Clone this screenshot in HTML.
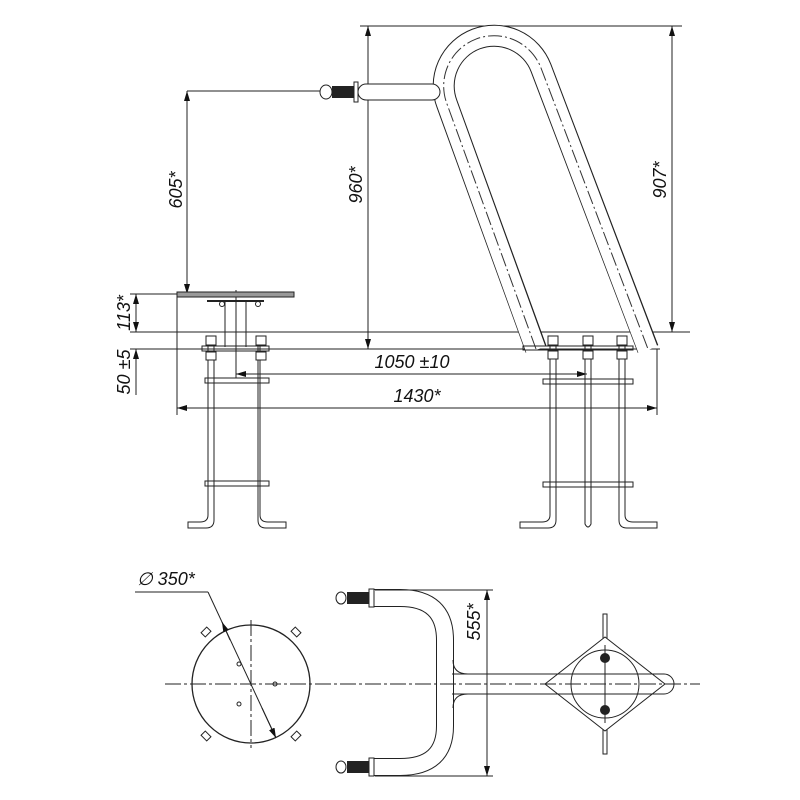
<!DOCTYPE html>
<html><head><meta charset="utf-8"><style>
html,body{margin:0;padding:0;background:#fff}
svg{display:block}
text{font-family:"Liberation Sans",sans-serif;font-style:italic;font-size:18px;fill:#111}
</style></head><body>
<svg width="800" height="800" viewBox="0 0 800 800" xmlns="http://www.w3.org/2000/svg">
<defs>
<marker id="a" viewBox="0 0 10 6" refX="10" refY="3" markerWidth="10" markerHeight="6" orient="auto-start-reverse" markerUnits="userSpaceOnUse"><path d="M0,0 L10,3 L0,6 z" fill="#111"/></marker>
</defs>
<g stroke="#222" stroke-width="1" fill="none">
<line x1="360" y1="26" x2="682" y2="26"/>
<line x1="187" y1="91" x2="330" y2="91"/>
<line x1="130" y1="294" x2="180" y2="294"/>
<line x1="130" y1="332" x2="690" y2="332"/>
<line x1="130" y1="349" x2="660" y2="349"/>
<line x1="177" y1="296" x2="177" y2="415"/>
<line x1="657" y1="349" x2="657" y2="415"/>
<line x1="236" y1="290" x2="236" y2="378"/>
<line x1="368" y1="26" x2="368" y2="349" marker-start="url(#a)" marker-end="url(#a)"/>
<line x1="672" y1="26" x2="672" y2="332" marker-start="url(#a)" marker-end="url(#a)"/>
<line x1="187" y1="91" x2="187" y2="294" marker-start="url(#a)" marker-end="url(#a)"/>
<line x1="136" y1="294" x2="136" y2="332" marker-start="url(#a)" marker-end="url(#a)"/>
<line x1="136" y1="349" x2="136" y2="395" marker-start="url(#a)"/>
<line x1="236" y1="374" x2="587" y2="374" marker-start="url(#a)" marker-end="url(#a)"/>
<line x1="177" y1="408" x2="657" y2="408" marker-start="url(#a)" marker-end="url(#a)"/>
</g>
<text transform="translate(182,190) rotate(-90)" text-anchor="middle">605*</text>
<text transform="translate(362,185) rotate(-90)" text-anchor="middle">960*</text>
<text transform="translate(666,180) rotate(-90)" text-anchor="middle">907*</text>
<text transform="translate(130,313) rotate(-90)" text-anchor="middle">113*</text>
<text transform="translate(130,372) rotate(-90)" text-anchor="middle">50 ±5</text>
<text x="412" y="368" text-anchor="middle">1050 ±10</text>
<text x="417" y="402" text-anchor="middle">1430*</text>

<path d="M536 349 L447 104 A50 50 0 0 1 541 68 L648 349" stroke="#222" stroke-width="22" fill="none"/>
<path d="M536 350 L447 104 A50 50 0 0 1 541 68 L648 350" stroke="#fff" stroke-width="20" fill="none"/>
<path d="M536 349 L447 104 A50 50 0 0 1 541 68 L648 349" stroke="#333" stroke-width="1" stroke-dasharray="14 3 2 3" fill="none"/>
<rect x="358" y="84" width="82" height="16" rx="8" fill="#fff" stroke="#222"/>
<rect x="354" y="82" width="4" height="20" fill="#fff" stroke="#222"/>
<rect x="332" y="86" width="22" height="12" fill="#222"/>
<ellipse cx="326" cy="92" rx="6" ry="7" fill="#fff" stroke="#222"/>

<rect x="177" y="292" width="117" height="5" fill="#999" stroke="#222"/>
<line x1="207" y1="301" x2="264" y2="301" stroke="#222" stroke-width="2"/>
<circle cx="222" cy="304" r="2.5" fill="#fff" stroke="#222"/>
<circle cx="258" cy="304" r="2.5" fill="#fff" stroke="#222"/>
<g stroke="#222" fill="none">
<line x1="225" y1="301" x2="225" y2="347"/><line x1="246" y1="301" x2="246" y2="347"/>
<rect x="202" y="346" width="67" height="5"/>
<rect x="205" y="378" width="64" height="5"/>
<rect x="205" y="481" width="64" height="5"/>
<path d="M208 340 V515 Q208 522 200 522 H188 V528 H206 Q214 528 214 520 V340"/>
<path d="M260 340 V515 Q260 522 268 522 H286 V528 H266 Q258 528 258 520 V340"/>
<rect x="206" y="336" width="10" height="9" fill="#fff"/><rect x="256" y="336" width="10" height="9" fill="#fff"/>
<rect x="206" y="352" width="10" height="8" fill="#fff"/><rect x="256" y="352" width="10" height="8" fill="#fff"/>
<rect x="523" y="346" width="110" height="4"/>
<rect x="543" y="379" width="90" height="5"/>
<rect x="543" y="482" width="90" height="5"/>
<path d="M550 340 V515 Q550 522 542 522 H520 V528 H548 Q556 528 556 520 V340"/>
<path d="M585 340 V524 Q588 530 591 524 V340"/>
<path d="M619 340 V520 Q619 528 627 528 H657 V522 H633 Q625 522 625 515 V340"/>
<rect x="548" y="336" width="10" height="9" fill="#fff"/><rect x="583" y="336" width="10" height="9" fill="#fff"/><rect x="617" y="336" width="10" height="9" fill="#fff"/>
<rect x="548" y="351" width="10" height="8" fill="#fff"/><rect x="583" y="351" width="10" height="8" fill="#fff"/><rect x="617" y="351" width="10" height="8" fill="#fff"/>
</g>

<g stroke="#222" fill="none">
<circle cx="251" cy="684" r="59" stroke-width="1.3"/>
<line x1="251" y1="620" x2="251" y2="748" stroke-dasharray="16 3 3 3"/>
<g stroke-width="1">
<rect x="202" y="629" width="8" height="6" transform="rotate(-45 206 632)"/>
<rect x="292" y="629" width="8" height="6" transform="rotate(45 296 632)"/>
<rect x="202" y="733" width="8" height="6" transform="rotate(45 206 736)"/>
<rect x="292" y="733" width="8" height="6" transform="rotate(-45 296 736)"/>
</g>
<circle cx="239" cy="664" r="2"/><circle cx="275" cy="684" r="2"/><circle cx="239" cy="704" r="2"/>
<path d="M135 592 H208"/>
<line x1="208" y1="592" x2="276" y2="738"/>
<line x1="230" y1="640" x2="222" y2="622" marker-end="url(#a)"/>
<line x1="262" y1="708" x2="276" y2="738" marker-end="url(#a)"/>
</g>
<text x="137" y="585">∅ 350*</text>

<path d="M373 598 H400 Q445 598 445 640 V726 Q445 767 400 767 H373" stroke="#222" stroke-width="18" fill="none"/>
<path d="M372 598 H400 Q445 598 445 640 V726 Q445 767 400 767 H372" stroke="#fff" stroke-width="16" fill="none"/>
<g>
<rect x="369" y="589" width="5" height="18" fill="#fff" stroke="#222"/>
<rect x="347" y="592" width="22" height="12" fill="#222"/>
<ellipse cx="341" cy="598" rx="5" ry="6" fill="#fff" stroke="#222"/>
<rect x="369" y="758" width="5" height="18" fill="#fff" stroke="#222"/>
<rect x="347" y="761" width="22" height="12" fill="#222"/>
<ellipse cx="341" cy="767" rx="5" ry="6" fill="#fff" stroke="#222"/>
</g>
<g stroke="#222" fill="none">
<line x1="375" y1="590" x2="493" y2="590"/>
<line x1="375" y1="776" x2="493" y2="776"/>
<line x1="487" y1="590" x2="487" y2="776" marker-start="url(#a)" marker-end="url(#a)"/>
</g>
<text transform="translate(480,622) rotate(-90)" text-anchor="middle">555*</text>

<g stroke="#222" fill="none">
<rect x="603" y="614" width="4" height="140" fill="#fff"/>
<path d="M545 684 L605 637 L665 684 L605 731 Z" fill="#fff"/>
<circle cx="605" cy="684" r="34"/>
<path d="M452 674 L664 674 A10 10 0 0 1 664 694 L452 694"/>
<path d="M453 660 Q453 674 468 674 M453 708 Q453 694 468 694"/>
<line x1="605" y1="645" x2="605" y2="723"/>
<line x1="165" y1="684" x2="700" y2="684" stroke-dasharray="16 3 3 3"/>
</g>
<circle cx="605" cy="658" r="5" fill="#222"/>
<circle cx="605" cy="710" r="5" fill="#222"/>
</svg>
</body></html>
